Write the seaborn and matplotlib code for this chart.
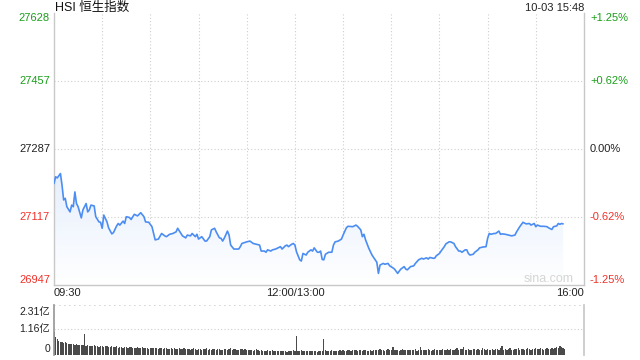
import numpy as np
import pandas as pd
import matplotlib
matplotlib.use("Agg")
import matplotlib.pyplot as plt
import seaborn as sns

# ---------------- data ----------------
title = "HSI 恒生指数"
stamp = "10-03 15:48"
prev_close = 27287
y_ticks = [27628, 27457, 27287, 27117, 26947]
pct_labels = ["+1.25%", "+0.62%", "0.00%", "-0.62%", "-1.25%"]
x_tick_pos = [0, 150, 330]            # trading minutes since 09:30
x_tick_labels = ["09:30", "12:00/13:00", "16:00"]
vol_ticks = [2.31, 1.16, 0]
vol_labels = ["2.31亿", "1.16亿", "0"]

minute = [0, 1, 2, 4, 5, 6, 7, 8, 10, 11, 12, 13, 14, 15, 17, 18, 20, 21, 22, 23,
          25, 26, 28, 29, 30, 31, 33, 34, 36, 37, 39, 40, 41, 43, 44, 45, 47, 48, 50, 52,
          54, 56, 57, 59, 61, 62, 63, 65, 67, 69, 70, 72, 74, 76, 77, 79, 80, 82, 83, 85,
          86, 88, 89, 90, 92, 94, 95, 97, 98, 100, 101, 103, 104, 105, 106, 108, 109, 110, 112, 115,
          116, 117, 120, 122, 124, 126, 128, 129, 131, 132, 133, 135, 136, 138, 139, 141, 142, 144, 145, 146,
          148, 149, 150, 151, 153, 154, 155, 157, 158, 160, 161, 162, 164, 165, 166, 167, 168, 169, 171, 173,
          174, 175, 177, 179, 180, 182, 183, 186, 188, 189, 191, 192, 193, 194, 196, 198, 200, 201, 202, 203,
          205, 206, 208, 209, 211, 212, 214, 215, 216, 218, 219, 220, 222, 224, 225, 227, 229, 230, 232, 233,
          234, 236, 237, 238, 240, 241, 243, 244, 246, 247, 249, 250, 252, 253, 254, 256, 257, 258, 259, 261,
          262, 264, 265, 267, 269, 270, 271, 272, 274, 275, 277, 278, 279, 281, 283, 285, 287, 288, 290, 292,
          294, 296, 297, 299, 300, 301, 303, 305, 307, 308, 310, 311, 313, 314, 315, 316, 317]
price = [27201, 27218, 27215, 27226, 27197, 27160, 27164, 27143, 27130, 27147, 27143, 27180, 27151, 27143, 27115, 27135, 27151, 27130, 27135, 27147,
         27145, 27118, 27105, 27104, 27089, 27122, 27105, 27090, 27075, 27078, 27095, 27101, 27097, 27107, 27101, 27118, 27116, 27111, 27124, 27120,
         27128, 27118, 27105, 27104, 27093, 27076, 27060, 27062, 27076, 27070, 27068, 27074, 27076, 27080, 27089, 27076, 27070, 27065, 27072, 27070,
         27076, 27068, 27074, 27062, 27068, 27057, 27057, 27068, 27085, 27089, 27080, 27065, 27064, 27057, 27064, 27082, 27072, 27047, 27037, 27037,
         27043, 27051, 27055, 27057, 27051, 27049, 27047, 27032, 27032, 27029, 27035, 27032, 27035, 27037, 27039, 27043, 27037, 27045, 27047, 27043,
         27049, 27051, 27047, 27030, 27010, 27007, 27026, 27022, 27029, 27035, 27032, 27040, 27029, 27029, 27032, 27011, 27010, 27024, 27029, 27029,
         27047, 27055, 27057, 27062, 27072, 27090, 27094, 27093, 27097, 27094, 27085, 27068, 27074, 27060, 27039, 27022, 27010, 27004, 26976, 26997,
         27001, 26999, 27001, 26995, 26990, 26987, 26976, 26982, 26987, 26993, 26987, 26985, 26993, 26995, 27001, 27010, 27014, 27012, 27015, 27012,
         27016, 27014, 27014, 27020, 27026, 27032, 27043, 27050, 27055, 27055, 27051, 27043, 27032, 27032, 27029, 27035, 27035, 27026, 27022, 27024,
         27029, 27035, 27040, 27042, 27043, 27064, 27076, 27074, 27076, 27076, 27082, 27074, 27075, 27074, 27072, 27070, 27072, 27080, 27093, 27104,
         27100, 27101, 27097, 27101, 27093, 27097, 27094, 27094, 27093, 27090, 27086, 27093, 27095, 27101, 27099, 27101, 27100]

# volume per minute, in 亿
vol = [1.03, 0.83, 0.72, 0.61, 0.57, 0.58, 0.55, 0.60, 0.52, 0.49, 0.50, 0.47, 0.49, 0.46, 0.48, 0.44, 0.45, 0.43, 0.46, 0.94,
       0.40, 0.42, 0.38, 0.41, 0.39, 0.43, 0.37, 0.40, 0.36, 0.38, 0.41, 0.35, 0.37, 0.39, 0.34, 0.36, 0.38, 0.33, 0.35, 0.37,
       0.32, 0.34, 0.36, 0.31, 0.33, 0.35, 0.30, 0.33, 0.36, 0.31, 0.32, 0.29, 0.34, 0.31, 0.30, 0.33, 0.28, 0.31, 0.30, 0.27,
       0.30, 0.32, 0.28, 0.29, 0.31, 0.27, 0.30, 0.28, 0.26, 0.29, 0.30, 0.27, 0.25, 0.28, 0.26, 0.29, 0.24, 0.27, 0.30, 0.25,
       0.26, 0.28, 0.24, 0.27, 0.25, 0.23, 0.26, 0.28, 0.24, 0.22, 0.25, 0.27, 0.23, 0.26, 0.24, 0.30, 0.22, 0.25, 0.23, 0.26,
       0.24, 0.21, 0.25, 0.27, 0.23, 0.22, 0.26, 0.24, 0.21, 0.25, 0.28, 0.22, 0.24, 0.26, 0.21, 0.23, 0.25, 0.27, 0.22, 0.24,
       0.22, 0.19, 0.23, 0.20, 0.18, 0.21, 0.24, 0.19, 0.17, 0.20, 0.18, 0.16, 0.18, 0.20, 0.15, 0.17, 0.19, 0.16, 0.18, 0.15,
       0.17, 0.14, 0.16, 0.18, 0.15, 0.13, 0.16, 0.14, 0.17, 0.19,
       0.16,
       0.85, 0.18, 0.15, 0.19, 0.16, 0.14, 0.18, 0.15, 0.17,
       0.16, 0.14, 0.17, 0.15, 0.13, 0.16, 0.18, 0.15, 0.73, 0.19, 0.16, 0.14, 0.17, 0.20, 0.15, 0.18, 0.16, 0.14, 0.19, 0.17,
       0.20, 0.16, 0.18, 0.22, 0.19, 0.17, 0.21, 0.19, 0.23, 0.18, 0.20, 0.19, 0.16, 0.19, 0.22, 0.18, 0.17, 0.20, 0.18, 0.21,
       0.23, 0.19, 0.22, 0.26, 0.20, 0.23, 0.18, 0.21, 0.25, 0.19, 0.22, 0.33, 0.20, 0.23, 0.21, 0.18, 0.22, 0.26, 0.20, 0.23,
       0.21, 0.19, 0.23, 0.20, 0.22, 0.25, 0.18, 0.21, 0.34, 0.22, 0.19, 0.23, 0.21, 0.24, 0.20, 0.18, 0.22, 0.26, 0.21, 0.19,
       0.23, 0.20, 0.25, 0.22, 0.19, 0.24, 0.21, 0.27, 0.23, 0.20, 0.25, 0.29, 0.22, 0.24, 0.26, 0.36, 0.23, 0.21, 0.25, 0.22,
       0.20, 0.24, 0.27, 0.22, 0.25, 0.21, 0.23, 0.28, 0.24, 0.21, 0.26, 0.23, 0.20, 0.25, 0.22, 0.27, 0.24, 0.21, 0.29, 0.38,
       0.23, 0.26, 0.22, 0.25, 0.28, 0.23, 0.21, 0.26, 0.24, 0.29, 0.22, 0.25, 0.27, 0.23, 0.26, 0.30, 0.24, 0.22, 0.27, 0.25,
       0.28, 0.24, 0.26, 0.31, 0.25, 0.23, 0.27, 0.29, 0.24, 0.26, 0.32, 0.25, 0.28, 0.34, 0.30, 0.40, 0.36, 0.31, 0.26]

# ---------------- style ----------------
sns.set_theme(style="white")
plt.rcParams["font.family"] = ["Liberation Sans", "Noto Sans CJK SC", "DejaVu Sans"]

GREEN = "#1a9e1a"
RED = "#f0312a"
GRID = "#cfcfcf"
SPINE = "#c8c8c8"
LINE = "#4b8df2"

W, H = 640, 360
fig = plt.figure(figsize=(W / 100, H / 100), dpi=100)

def fx(px):
    return px / W

def fy(py):
    return 1 - py / H

L, R = 54, 584
ax = fig.add_axes([fx(L), fy(285), fx(R - L), fy(13) - fy(285)])
axv = fig.add_axes([fx(L), fy(354.5), fx(R - L), fy(304.5) - fy(354.5)])

df = pd.DataFrame({"minute": minute, "price": price})

# gradient fill under the line
ymin, ymax = y_ticks[-1], y_ticks[0]
poly = ax.fill_between(df["minute"], df["price"], ymin, color="none", lw=0)
grad = np.linspace(0, 1, 256).reshape(-1, 1)
cmap = matplotlib.colors.LinearSegmentedColormap.from_list("g", ["#ffffff", "#e6effd"])
im = ax.imshow(grad, extent=[0, 330, ymin, max(price)], origin="lower", aspect="auto",
               cmap=cmap, zorder=1, interpolation="bicubic")
im.set_clip_path(poly.get_paths()[0], transform=ax.transData)

sns.lineplot(data=df, x="minute", y="price", ax=ax, color=LINE, lw=1.2, zorder=3)

ax.set_xlim(0, 330)
ax.set_ylim(ymin, ymax)
ax.set_xticks([])
ax.set_yticks([])
ax.set_xlabel("")
ax.set_ylabel("")
for t in y_ticks[1:-1]:
    ax.axhline(t, color=GRID, lw=0.8, ls=(0, (1, 2)), zorder=0)
for m in range(30, 330, 30):
    ax.axvline(m, color=GRID, lw=0.8, ls=(0, (1, 2)), zorder=0)
ax.spines["top"].set_visible(False)
for s in ["left", "right", "bottom"]:
    ax.spines[s].set_color(SPINE)
    ax.spines[s].set_linewidth(1.0)

# y labels left / right
colors = [GREEN, GREEN, "#222222", RED, RED]
for i, (t, lab, c) in enumerate(zip(y_ticks, pct_labels, colors)):
    va = "top" if i == 0 else ("bottom" if i == len(y_ticks) - 1 else "center")
    ax.text(-4 / (R - L), t, str(t), transform=ax.get_yaxis_transform(),
            ha="right", va=va, color=c, fontsize=8)
    ax.text(1 + 6 / (R - L), t, lab, transform=ax.get_yaxis_transform(),
            ha="left", va=va, color=c, fontsize=8)

# x labels
has = ["left", "center", "right"]
for p, lab, ha in zip(x_tick_pos, x_tick_labels, has):
    fig.text(fx(L + (R - L) * p / 330), fy(293), lab, ha=ha, va="center",
             fontsize=8, color="#222222")

fig.text(fx(55), fy(8), title, ha="left", va="center", fontsize=9, color="#111111")
fig.text(fx(584), fy(8), stamp, ha="right", va="center", fontsize=8, color="#222222")
ax.text(0.98, 0.022, "sina.com", transform=ax.transAxes, ha="right", va="center",
        fontsize=9, color="#d5d5d5")

# volume panel
xs = np.arange(len(vol))
axv.bar(xs, vol, width=0.8, color="#4a4a4a", lw=0, align="center")
axv.set_xlim(0, 330)
axv.set_ylim(0, vol_ticks[0])
axv.set_xticks([])
axv.set_yticks([])
axv.axhline(vol_ticks[1], color=GRID, lw=0.8, ls=(0, (1, 2)))
axv.axhline(vol_ticks[0], color=GRID, lw=1.2, ls=(0, (1, 2)))
axv.spines["top"].set_visible(False)
axv.spines["bottom"].set_visible(False)
axv.spines["left"].set_color("#999999")
axv.spines["right"].set_color(SPINE)
for i, (t, lab) in enumerate(zip(vol_ticks, vol_labels)):
    if i == 0:
        va, dy = "top", -3
    elif i == len(vol_ticks) - 1:
        va, dy = "bottom", 0
    else:
        va, dy = "center", 0
    axv.annotate(lab, xy=(0, t), xycoords=axv.get_yaxis_transform(),
                 xytext=(-4, dy), textcoords="offset pixels",
                 ha="right", va=va, color="#222222", fontsize=7.5)

fig.savefig("out.png", dpi=100)
